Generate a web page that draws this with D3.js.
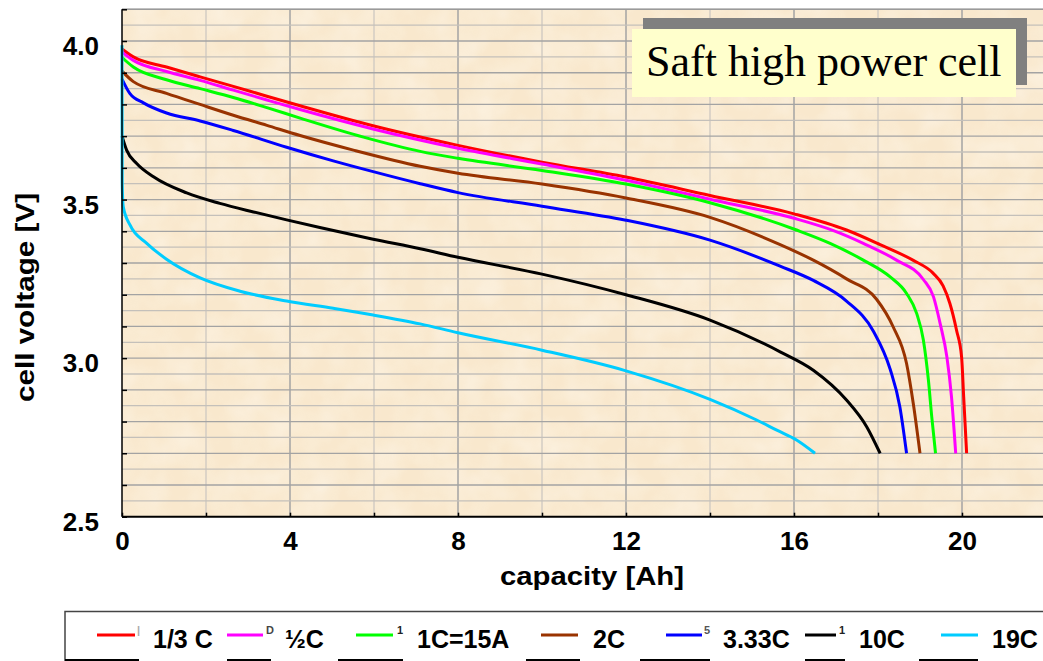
<!DOCTYPE html>
<html>
<head>
<meta charset="utf-8">
<script src="https://cdn.jsdelivr.net/npm/d3@7"></script>
<style>
  body { margin: 0; background: #fff; }
  svg { display: block; }
  .tick text { font-family: "Liberation Sans", Arial, sans-serif; font-weight: bold; fill: #000; }
</style>
</head>
<body>
<div id="chart"></div>
<script>
// discharge curves, capacity [Ah] vs cell voltage [V]
const seriesLabels = ["1/3 C", "\u00bdC", "1C=15A", "2C", "3.33C", "10C", "19C"];
const seriesColors = ["#ff0000", "#ff00ff", "#00ff00", "#993300", "#0000ff", "#000000", "#00ccff"];

const rate033 = [[0, 3.975], [0.27, 3.950], [1.06, 3.918], [1.86, 3.887], [2.65, 3.857], [3.45, 3.826], [4.24, 3.796],
  [6, 3.732], [8, 3.671], [10, 3.618], [12, 3.571], [14, 3.513], [16, 3.455], [17.25, 3.404], [18.05, 3.358],
  [18.83, 3.309], [19.31, 3.268], [19.55, 3.228], [19.71, 3.173], [19.87, 3.088], [19.99, 3.004], [20.04, 2.878], [20.11, 2.70]];
const rate05 = [[0, 3.965], [0.27, 3.939], [1.06, 3.904], [1.86, 3.876], [2.65, 3.845], [3.45, 3.814], [4.24, 3.784],
  [6, 3.722], [8, 3.662], [10, 3.612], [12, 3.561], [14, 3.501], [16, 3.441], [16.94, 3.402], [17.65, 3.362],
  [18.44, 3.309], [19.08, 3.248], [19.32, 3.194], [19.48, 3.109], [19.64, 3.004], [19.75, 2.878], [19.85, 2.70]];
const rate1 = [[0, 3.948], [0.27, 3.918], [1.06, 3.878], [1.86, 3.850], [2.65, 3.822], [3.45, 3.790], [4.24, 3.757],
  [5.75, 3.697], [7.10, 3.652], [8, 3.630], [10, 3.592], [12, 3.549], [14, 3.490], [16.06, 3.404], [16.86, 3.362],
  [17.65, 3.309], [18.29, 3.256], [18.68, 3.204], [18.92, 3.141], [19.08, 3.057], [19.20, 2.931], [19.28, 2.815], [19.37, 2.70]];
const rate2 = [[0, 3.905], [0.27, 3.872], [1.06, 3.835], [1.86, 3.800], [2.65, 3.766], [3.45, 3.734], [4.24, 3.702],
  [5.51, 3.656], [7.10, 3.605], [8, 3.583], [10, 3.549], [12, 3.505], [14, 3.444], [15.67, 3.358], [16.46, 3.309],
  [17.25, 3.250], [17.97, 3.185], [18.36, 3.099], [18.68, 2.983], [18.84, 2.857], [19.0, 2.70]];
const rate333 = [[0, 3.880], [0.19, 3.834], [0.51, 3.805], [1.06, 3.773], [1.86, 3.748], [2.65, 3.718], [3.92, 3.665],
  [5.03, 3.622], [5.98, 3.588], [7.10, 3.550], [8, 3.522], [10, 3.479], [12, 3.435], [14, 3.372], [15.67, 3.290],
  [16.46, 3.245], [17.25, 3.180], [17.89, 3.085], [18.29, 2.965], [18.52, 2.847], [18.68, 2.70]];
const rate10 = [[0, 3.700], [0.11, 3.656], [0.35, 3.614], [0.75, 3.572], [1.54, 3.521], [2.33, 3.488], [3.13, 3.461],
  [3.92, 3.436], [4.71, 3.412], [5.98, 3.375], [7.10, 3.345], [8, 3.318], [10, 3.265], [12, 3.200], [14, 3.120],
  [15.67, 3.020], [16.46, 2.962], [17.25, 2.868], [17.73, 2.784], [18.05, 2.70]];
const rate19 = [[0, 3.987], [0.005, 3.55], [0.03, 3.477], [0.19, 3.420], [0.59, 3.362], [1.06, 3.312], [1.86, 3.253],
  [2.81, 3.211], [3.92, 3.180], [5.03, 3.157], [5.98, 3.136], [7.10, 3.108], [8, 3.080], [10, 3.025], [12, 2.960],
  [14, 2.870], [15.11, 2.805], [15.59, 2.773], [16.06, 2.742], [16.5, 2.70]];
const seriesData = [rate033, rate05, rate1, rate2, rate333, rate10, rate19];

const xTicks = [0, 2, 4, 6, 8, 10, 12, 14, 16, 18, 20];
const xTickLabels = [0, 4, 8, 12, 16, 20];
const yTickLabels = ["2.5", "3.0", "3.5", "4.0"];

// legend layout (line start, line end, text x) and the clipped bits under it
const legendLayout = [[97, 135, 153], [227, 263, 285], [356, 393, 417], [541, 578, 593], [666, 702, 723], [805, 836, 859], [941, 978, 992]];
const legendUnder = [[65, 139], [227, 271], [338, 403], [526, 580], [640, 710], [805, 845], [919, 978]];
const legendStray = [["|", 137, "#aaa"], ["D", 266, "#444"], ["1", 397, "#222"], ["5", 704, "#555"], ["1", 839, "#222"]];

const W = 1043, H = 661;
const plot = { left: 122, top: 9.3, bottom: 516.7, right: W };

const svg = d3.select("#chart").append("svg")
  .attr("width", W).attr("height", H)
  .style("font-family", "'Liberation Sans', Arial, sans-serif");

const x = d3.scaleLinear().domain([0, (plot.right - plot.left) / 42]).range([plot.left, plot.right]);
const y = d3.scaleLinear().domain([2.5, 4.1]).range([plot.bottom, plot.top]);

// parchment background
const defs = svg.append("defs");
const f = defs.append("filter").attr("id", "paper").attr("x", 0).attr("y", 0).attr("width", 1).attr("height", 1);
f.append("feTurbulence").attr("type", "fractalNoise").attr("baseFrequency", 0.03).attr("numOctaves", 3).attr("seed", 4);
f.append("feColorMatrix").attr("values", "0 0 0 0 1  0 0 0 0 0.98  0 0 0 0 0.93  0 0 0 -1.4 0.95");
f.append("feComposite").attr("in2", "SourceGraphic").attr("operator", "in");
svg.append("rect")
  .attr("x", plot.left).attr("y", plot.top)
  .attr("width", plot.right - plot.left).attr("height", plot.bottom - plot.top)
  .attr("fill", "#f9e8cd");
svg.append("rect")
  .attr("x", plot.left).attr("y", plot.top)
  .attr("width", plot.right - plot.left).attr("height", plot.bottom - plot.top)
  .attr("fill", "#fff").attr("filter", "url(#paper)").attr("opacity", 0.45);

// grid
const grid = svg.append("g");
const vLines = d3.range(1, 11).map(i => i * 2);
grid.selectAll(".vg").data(vLines).join("line")
  .attr("x1", d => x(d)).attr("x2", d => x(d))
  .attr("y1", plot.top).attr("y2", plot.bottom)
  .attr("stroke", d => d % 4 === 0 ? "#a3a3a3" : "#d3cdc3")
  .attr("stroke-width", 1.5);
const hLines = d3.range(51, 83).map(i => i / 20);
grid.selectAll(".hg").data(hLines).join("line")
  .attr("x1", plot.left).attr("x2", plot.right)
  .attr("y1", d => y(d)).attr("y2", d => y(d))
  .attr("stroke", (d, i) => i % 2 === 1 ? "#a3a3a3" : "#c4c0ba")
  .attr("stroke-width", 1.3);
svg.append("line")
  .attr("x1", plot.left).attr("x2", plot.right)
  .attr("y1", plot.top).attr("y2", plot.top)
  .attr("stroke", "#9a9a9a").attr("stroke-width", 1.5);

// title box
svg.append("rect").attr("x", 643).attr("y", 18).attr("width", 384).attr("height", 67).attr("fill", "#808080");
svg.append("rect").attr("x", 632).attr("y", 29).attr("width", 384).attr("height", 68).attr("fill", "#ffffcc");
svg.append("text").attr("x", 646).attr("y", 76)
  .style("font-family", "'Liberation Serif', 'Times New Roman', serif")
  .style("font-size", "44px").attr("fill", "#000")
  .text("Saft high power cell");

// curves
const line = d3.line().x(d => x(d[0])).y(d => y(d[1])).curve(d3.curveMonotoneX);
svg.append("g").selectAll("path").data(seriesData).join("path")
  .attr("d", line)
  .attr("fill", "none")
  .attr("stroke", (d, i) => seriesColors[i])
  .attr("stroke-width", 3)
  .attr("stroke-linejoin", "round");

// axes
const xAxis = d3.axisBottom(x).tickValues(xTicks).tickSize(-4).tickPadding(14.5)
  .tickFormat(d => xTickLabels.includes(d) ? d : "");
const gx = svg.append("g").attr("transform", `translate(0,${plot.bottom})`).call(xAxis);
gx.select(".domain").attr("stroke", "#000").attr("stroke-width", 2).attr("d", `M${plot.left},0H${plot.right}`);
gx.selectAll(".tick line").attr("stroke", "#000").attr("stroke-width", 1.5);
gx.selectAll(".tick text").style("font-size", "26px");

const yAxis = d3.axisLeft(y).tickValues(d3.range(25, 42).map(i => i / 10)).tickSize(-5).tickPadding(23)
  .tickFormat(d => { const s = d3.format(".1f")(d); return yTickLabels.includes(s) ? s : ""; });
const gy = svg.append("g").attr("transform", `translate(${plot.left},0)`).call(yAxis);
gy.select(".domain").attr("stroke", "#000").attr("stroke-width", 1.5).attr("d", `M0,${plot.top}V${plot.bottom}`);
gy.selectAll(".tick line").attr("stroke", "#000").attr("stroke-width", 1.5);
gy.selectAll(".tick text").style("font-size", "26px").attr("dy", "0.52em");

// axis titles
svg.append("text")
  .attr("x", 592).attr("y", 585)
  .attr("text-anchor", "middle")
  .attr("textLength", 184).attr("lengthAdjust", "spacingAndGlyphs")
  .style("font-size", "26px").style("font-weight", "bold")
  .text("capacity [Ah]");
svg.append("text")
  .attr("transform", "translate(34,297.5) rotate(-90)")
  .attr("text-anchor", "middle")
  .attr("textLength", 209).attr("lengthAdjust", "spacingAndGlyphs")
  .style("font-size", "26px").style("font-weight", "bold")
  .text("cell voltage [V]");

// legend
const lg = svg.append("g");
lg.append("rect").attr("x", 65).attr("y", 611.5).attr("width", W).attr("height", 80)
  .attr("fill", "#fff").attr("stroke", "#444").attr("stroke-width", 1.5);
lg.selectAll(".under").data(legendUnder).join("line")
  .attr("x1", d => d[0]).attr("x2", d => d[1])
  .attr("y1", 660).attr("y2", 660)
  .attr("stroke", "#000").attr("stroke-width", 2);
lg.selectAll(".stray").data(legendStray).join("text")
  .attr("x", d => d[1]).attr("y", 634)
  .attr("fill", d => d[2])
  .style("font-size", "11px").style("font-weight", "bold")
  .text(d => d[0]);
const items = lg.selectAll(".item").data(seriesLabels).join("g");
items.append("line")
  .attr("x1", (d, i) => legendLayout[i][0]).attr("x2", (d, i) => legendLayout[i][1])
  .attr("y1", 635).attr("y2", 635)
  .attr("stroke", (d, i) => seriesColors[i]).attr("stroke-width", 3);
items.append("text")
  .attr("x", (d, i) => legendLayout[i][2]).attr("y", 647.5)
  .style("font-size", "25px").style("font-weight", "bold")
  .text(d => d);
</script>
</body>
</html>
